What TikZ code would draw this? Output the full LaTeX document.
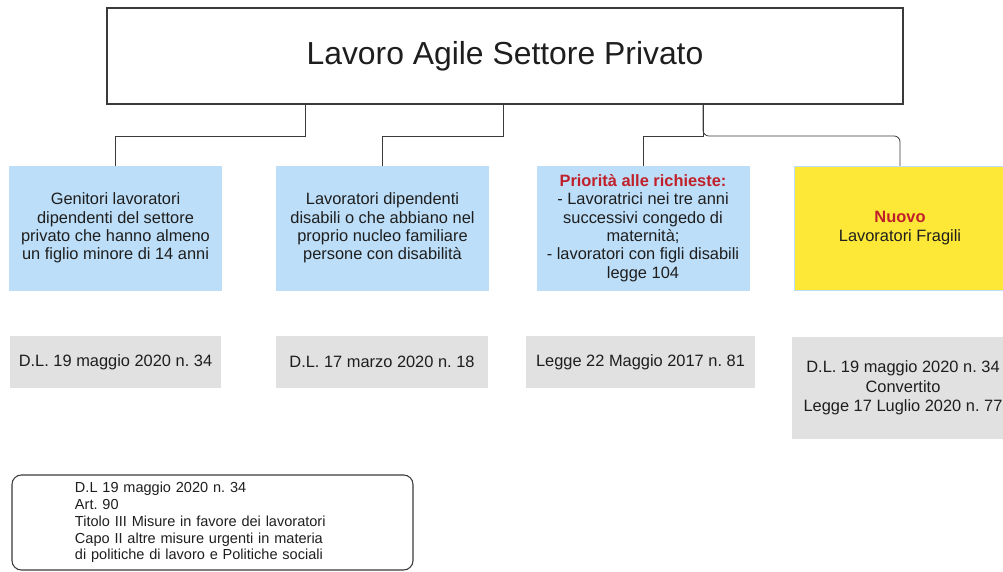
\documentclass[tikz,border=0pt]{standalone}
\usepackage{fontspec}
\setmainfont{Liberation Sans}
\usepackage{xcolor}
\frenchspacing

\definecolor{cellblue}{HTML}{BDDEF8}
\definecolor{cellyellow}{HTML}{FDE837}
\definecolor{lawgrey}{HTML}{E1E1E1}
\definecolor{alert}{HTML}{C0202A}
\definecolor{wire}{HTML}{3A3A3A}
\definecolor{ink}{HTML}{1E1E1E}

\begin{document}
\begin{tikzpicture}[x=0.03cm,y=-0.03cm,
  cell/.style={fill=cellblue,draw=cellblue,minimum width=6.36cm,minimum height=3.72cm,
    inner sep=1pt,align=center,text=ink,font=\fontsize{14}{15.6}\selectfont},
  law/.style={fill=lawgrey,minimum height=1.56cm,inner sep=1pt,align=center,
    text=ink,font=\fontsize{14}{16.8}\selectfont},
  link/.style={draw=wire,line width=0.7pt}]
\useasboundingbox (0,0) rectangle (1003,572);
\clip (0,0) rectangle (1003,572);

% title
\draw (505,56) node[draw=wire,line width=1.1pt,minimum width=23.88cm,minimum height=2.88cm,
  text=ink,font=\fontsize{27.2}{33}\selectfont](title) {Lavoro Agile Settore Privato};

% categories
\draw (115.5,228) node[cell](genitori) {Genitori lavoratori\\dipendenti del settore\\privato che hanno almeno\\un figlio minore di 14 anni};
\draw (382.5,228) node[cell](disabili) {Lavoratori dipendenti\\disabili o che abbiano nel\\proprio nucleo familiare\\persone con disabilità};
\draw (643,228) node[cell](priorita) {\textbf{\color{alert}Priorità alle richieste:}\\- Lavoratrici nei tre anni\\successivi congedo di\\maternità;\\- lavoratori con figli disabili\\legge 104};
\draw (900,228) node[cell,fill=cellyellow](fragili) {\textbf{\color{alert}Nuovo}\\Lavoratori Fragili};

% laws
\draw (115.5,362) node[law,minimum width=6.33cm](dl34) {D.L. 19 maggio 2020 n. 34};
\draw (382,362) node[law,minimum width=6.36cm](dl18) {D.L. 17 marzo 2020 n. 18};
\draw (640.5,362) node[law,minimum width=6.87cm](l81) {Legge 22 Maggio 2017 n. 81};
\draw (903,388) node[law,minimum width=6.66cm,minimum height=3.03cm](l77) {D.L. 19 maggio 2020 n. 34\\Convertito\\Legge 17 Luglio 2020 n. 77};

% note
\draw (212.5,522.5) node[draw=wire,line width=0.9pt,rounded corners=8pt,minimum height=2.85cm,
  text width=8.25cm,inner xsep=1.89cm,align=left,text=ink,
  font=\fontsize{12.4}{14.4}\selectfont](nota) {D.L 19 maggio 2020 n. 34\\Art. 90\\Titolo III Misure in favore dei lavoratori\\Capo II altre misure urgenti in materia\\di politiche di lavoro e Politiche sociali};

\coordinate (j1) at (305,136);
\coordinate (j2) at (503,136);
\coordinate (j3) at (703,136);
\draw[link] (j1 |- title.south) -- (j1) -| (genitori.north);
\draw[link] (j2 |- title.south) -- (j2) -| (disabili.north);
\draw[link] (j3 |- title.south) -- (j3) -| (priorita.north);
\draw[link,rounded corners=5pt] (j3 |- title.south) -- (j3) -| (fragili.north);
\end{tikzpicture}
\end{document}
